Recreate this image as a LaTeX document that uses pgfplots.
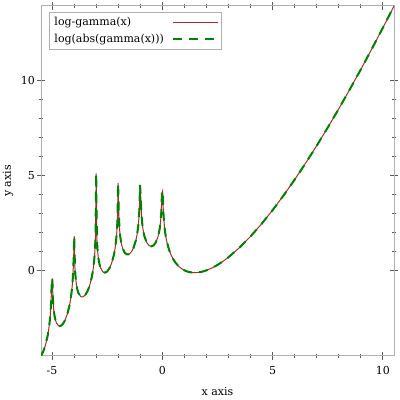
\documentclass[border=0pt]{standalone}
\usepackage{pgfplots}
\pgfplotsset{compat=1.18}
\usepackage{pgfplotstable}
\usepackage{fontspec}
\setmainfont{DejaVu Serif}
\definecolor{lgred}{RGB}{165,45,45}
\definecolor{lggreen}{RGB}{0,128,0}
\definecolor{axgray}{RGB}{175,175,175}
\definecolor{tickgray}{RGB}{90,90,90}
\pgfplotstableread{
x y
-5.5 -4.5178
-5.4 -4.2892
-5.3 -3.9507
-5.2 -3.4562
-5.15 -3.1110
-5.11523 -2.8025
-5.08317 -2.4317
-5.05110 -1.8967
-5.01904 -0.8581
-4.98697 -0.4242
-4.95491 -1.6083
-4.92285 -2.0846
-4.89078 -2.3681
-4.85 -2.5992
-4.8 -2.7738
-4.7 -2.9273
-4.65 -2.9416
-4.6 -2.9250
-4.5 -2.8131
-4.4 -2.6028
-4.3 -2.2830
-4.2 -1.8075
-4.15 -1.4720
-4.12124 -1.2280
-4.08918 -0.8830
-4.05711 -0.3964
-4.02505 0.4721
-3.99299 1.7924
-3.96092 0.1253
-3.92886 -0.4201
-3.89679 -0.7352
-3.85 -1.0202
-3.8 -1.2052
-3.7 -1.3797
-3.65 -1.4047
-3.6 -1.3989
-3.5 -1.3090
-3.4 -1.1212
-3.3 -0.8244
-3.2 -0.3724
-3.15 -0.0489
-3.09519 0.4542
-3.06313 0.8976
-3.03106 1.6424
-2.99900 5.1153
-2.96693 1.6607
-2.93487 1.0278
-2.90281 0.6756
-2.85 0.3278
-2.8 0.1298
-2.7 -0.0714
-2.65 -0.1100
-2.6 -0.1180
-2.55 -0.0994
-2.5 -0.0562
-2.4 0.1026
-2.3 0.3696
-2.2 0.7907
-2.15 1.0985
-2.10120 1.5190
-2.06914 1.9216
-2.03707 2.5695
-2.00501 4.5986
-1.97295 2.9428
-1.94088 2.1947
-1.90882 1.7979
-1.87675 1.5362
-1.85 1.3751
-1.8 1.1594
-1.7 0.9218
-1.6 0.8375
-1.55 0.8367
-1.5 0.8600
-1.4 0.9781
-1.3 1.2025
-1.2 1.5792
-1.15 1.8640
-1.10721 2.2029
-1.07515 2.5640
-1.04309 3.1288
-1.01102 4.5034
-0.97896 3.8707
-0.94689 2.9616
-0.91483 2.5087
-0.88277 2.2113
-0.85 1.9903
-0.8 1.7472
-0.7 1.4525
-0.6 1.3075
-0.55 1.2749
-0.5 1.2655
-0.4 1.3145
-0.3 1.4648
-0.2 1.7615
-0.15 2.0037
-0.11323 2.2549
-0.08116 2.5638
-0.04910 3.0443
-0.01703 4.0826
0.01503 4.1892
0.04709 3.0302
0.07916 2.4956
0.11122 2.1417
0.15 1.8278
0.2 1.5241
0.3 1.0958
0.4 0.7967
0.5 0.5724
0.6 0.3982
0.7 0.2609
0.8 0.1521
0.9 0.0664
1.0 0
1.1 -0.0499
1.2 -0.0854
1.3 -0.1082
1.4 -0.1196
1.5 -0.1208
1.6 -0.1126
1.7 -0.0958
1.8 -0.0711
1.9 -0.0390
2.0 0
2.25 0.1249
2.5 0.2847
2.75 0.4752
3 0.6931
3.5 1.2010
4 1.7918
4.5 2.4537
5 3.1781
5.5 3.9578
6 4.7875
6.5 5.6626
7 6.5793
7.5 7.5344
8 8.5252
8.5 9.5493
9 10.6046
9.5 11.6893
10 12.8018
10.5 13.9406
}\lgdata
\begin{document}
\begin{tikzpicture}
\useasboundingbox (0,0) rectangle (400bp,400bp);
\begin{axis}[
  at={(41bp,44bp)}, anchor=south west,
  scale only axis, width=353bp, height=350bp,
  xmin=-5.5, xmax=10.5, ymin=-4.517837, ymax=13.940625,
  xtick={-5,0,5,10}, xticklabels={-5,0,5,10},
  ytick={0,5,10}, yticklabels={0,5,10},
  minor x tick num=4, minor y tick num=4,
  tick align=center,
  major tick length=8bp, minor tick length=4bp,
  every tick/.style={tickgray, line width=1bp},
  axis line style={axgray, line width=1bp},
  tick label style={font=\fontsize{11bp}{13bp}\selectfont, text=black},
  xticklabel style={anchor=north, inner sep=0pt, yshift=-6bp},
  yticklabel style={anchor=east, inner sep=0pt, xshift=-2bp},
  xlabel={x axis}, ylabel={y axis},
  label style={font=\fontsize{11bp}{13bp}\selectfont},
  x label style={at={(axis description cs:0.5,-0.1029)}, anchor=center},
  y label style={at={(axis description cs:-0.0935,0.5)}, anchor=center},
  legend cell align=left,
  legend plot pos=right,
  legend image code/.code={\draw[#1] (0bp,0bp) -- (45bp,0bp);},
  legend style={at={(axis description cs:0,1)}, anchor=north west,
    xshift=8bp, yshift=-6bp, draw=axgray, line width=1bp, fill=white,
    font=\fontsize{11bp}{13bp}\selectfont, inner sep=3bp, row sep=3bp,
    /tikz/every odd column/.append style={column sep=6bp}},
]
\addplot[draw=lgred, line width=1bp] table[x=x,y=y] {\lgdata};
\addlegendentry{log-gamma(x)}
\addplot[draw=lggreen, line width=2bp, dash pattern=on 9bp off 7bp] table[x=x,y=y] {\lgdata};
\addlegendentry{log(abs(gamma(x)))}
\end{axis}
\end{tikzpicture}
\end{document}
